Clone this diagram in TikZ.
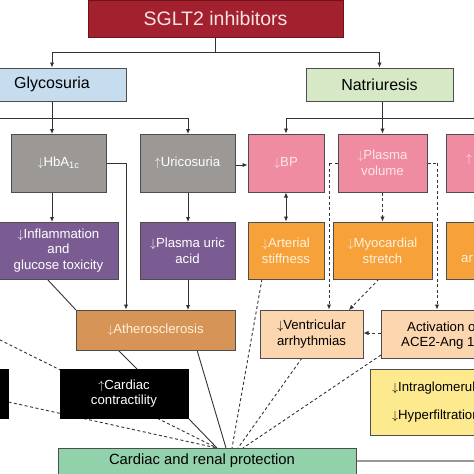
\documentclass[tikz,border=0pt]{standalone}
\usepackage{fontspec}
\setmainfont{Liberation Sans}
\usetikzlibrary{arrows.meta,backgrounds}
\newcommand{\arrdn}{\ensuremath{\downarrow}}
\newcommand{\arrup}{\ensuremath{\uparrow}}
\definecolor{sgltred}{HTML}{A3202E}
\definecolor{sgltborder}{HTML}{6E1119}
\definecolor{titletext}{HTML}{F7E3E3}
\definecolor{glycblue}{HTML}{C6DCEF}
\definecolor{natgreen}{HTML}{D6E8C5}
\definecolor{grayb}{HTML}{9C9895}
\definecolor{pinkb}{HTML}{F08CA1}
\definecolor{pinktext}{HTML}{FDE6EB}
\definecolor{purpleb}{HTML}{7B5C92}
\definecolor{orangeb}{HTML}{F6A13A}
\definecolor{orangetext}{HTML}{FFF1DF}
\definecolor{athb}{HTML}{D69456}
\definecolor{peachb}{HTML}{FCD6AE}
\definecolor{yellowb}{HTML}{FDE98E}
\definecolor{greenb}{HTML}{92D2AA}
\definecolor{lineg}{HTML}{333333}
\definecolor{bordc}{HTML}{4D4D4D}
\begin{document}
\begin{tikzpicture}[x=1pt,y=-1pt,
  box/.style={draw=bordc, line width=1pt, inner sep=2pt, align=center,
    font=\fontsize{13.2}{15.8}\selectfont},
  lvl/.style={box, font=\fontsize{16}{19}\selectfont},
  graybox/.style={box, fill=grayb, text=white},
  pinkbox/.style={box, fill=pinkb, text=pinktext},
  purplebox/.style={box, fill=purpleb, text=white},
  orangebox/.style={box, fill=orangeb, text=orangetext},
  peachbox/.style={box, fill=peachb, text=black},
  blackbox/.style={box, fill=black, draw=black, text=white},
  frag/.style={anchor=west, inner sep=0pt, font=\fontsize{13.2}{15.8}\selectfont},
  conn/.style={draw=lineg, line width=0.9pt},
  arr/.style={conn, -{Latex[length=5pt,width=4.5pt]}},
  darr/.style={conn, {Latex[length=5pt,width=4.5pt]}-{Latex[length=5pt,width=4.5pt]}},
  dsh/.style={conn, dash pattern=on 3pt off 2.5pt},
  darrow/.style={dsh, -{Latex[length=5pt,width=4.5pt]}}
]
\useasboundingbox (0,0) rectangle (474,474);

% top levels
\node[box, fill=sgltred, draw=sgltborder, text=titletext, minimum width=255pt, minimum height=37pt,
  font=\fontsize{19.5}{23}\selectfont] (sglt) at (215.5,19) {SGLT2 inhibitors};
\node[lvl, fill=glycblue, minimum width=148pt, minimum height=33pt] (glyc) at (52,84.5) {Glycosuria};
\node[lvl, fill=natgreen, minimum width=147pt, minimum height=33pt] (natr) at (379.5,84.5) {Natriuresis};

% row 2
\node[graybox, minimum width=95pt, minimum height=58pt] (hba) at (58.5,163) {\arrdn HbA\textsubscript{1c}};
\node[graybox, minimum width=95pt, minimum height=58pt] (uric) at (187.5,163) {\arrup Uricosuria};
\node[pinkbox, minimum width=76pt, minimum height=58pt] (bp) at (286,163) {\arrdn BP};
\node[pinkbox, minimum width=89pt, minimum height=58pt] (pv) at (382.5,163) {\arrdn Plasma\\volume};
\node[pinkbox, minimum width=94pt, minimum height=58pt] (pk3) at (493,163) {};
\node[frag, text=pinktext] (pk3t) at (466,159) {\arrup};

% row 3
\node[purplebox, minimum width=119pt, minimum height=57pt] (infl) at (58.5,250.5) {\arrdn Inflammation\\and\\glucose toxicity};
\node[purplebox, minimum width=95pt, minimum height=57pt] (pua) at (187.5,250.5) {\arrdn Plasma uric\\acid};
\node[orangebox, minimum width=76pt, minimum height=57pt] (art) at (286,250.5) {\arrdn Arterial\\stiffness};
\node[orangebox, minimum width=99pt, minimum height=57pt] (myo) at (382.5,250.5) {\arrdn Myocardial\\stretch};
\node[orangebox, minimum width=94pt, minimum height=57pt] (or3) at (493,250.5) {};
\node[frag, text=orangetext] (or3t) at (461,259) {ar};

% row 4
\node[box, fill=athb, text=orangetext, minimum width=159pt, minimum height=40pt] (ath) at (155.5,330) {\arrdn Atherosclerosis};
\node[peachbox, minimum width=103pt, minimum height=48pt] (va) at (311.5,334) {\arrdn Ventricular\\arrhythmias};
\node[peachbox, minimum width=139pt, minimum height=48pt] (act) at (450.5,334) {};
\node[frag] (actt1) at (407,327) {Activation of};
\node[frag] (actt2) at (401,343) {ACE2-Ang 1-7};

% row 5
\node[blackbox, minimum width=68pt, minimum height=49pt] (blk) at (-26,393.5) {};
\node[blackbox, minimum width=128pt, minimum height=49pt] (con) at (124,393.5) {\arrup Cardiac\\contractility};
\node[box, fill=yellowb, minimum width=150pt, minimum height=66pt] (yel) at (445,402) {};
\node[frag] (yelt1) at (392,388) {\arrdn Intraglomerular};
\node[frag] (yelt2) at (392,416) {\arrdn Hyperfiltration};

% bottom
\node[box, fill=greenb, minimum width=298pt, minimum height=28pt] (crp) at (207,462) {};
\node[inner sep=0pt, font=\fontsize{14.8}{17}\selectfont] (crpt) at (202,461) {Cardiac and renal protection};

\coordinate (r1) at (0,52);
\coordinate (r2) at (0,118);
\coordinate (hcorner) at (126,163);
\coordinate (pvl) at (329,163);
\coordinate (pvr) at (437,163);
\coordinate (offl) at (-20,330);
\coordinate (farr) at (480,118);
\coordinate (farr2) at (480,461);
\coordinate (cv1) at (217,448);
\coordinate (cv2) at (226,448);
\coordinate (cv3) at (232,448);
\coordinate (cv4) at (238,448);
\coordinate (cv5) at (243,448);

\begin{scope}[on background layer]
% SGLT2 split
\draw[conn] (sglt.south) -- (sglt.south |- r1);
\draw[conn] (52,52) -- (379.5,52);
\draw[arr] (52,52) -- (glyc.north);
\draw[arr] (natr.north |- r1) -- (natr.north);
% glycosuria split
\draw[conn] (glyc.south) -- (glyc.south |- r2);
\draw[conn] (-5,118) -- (188,118);
\draw[arr] (52,118) -- (52,134);
\draw[arr] (188,118) -- (188,134);
% natriuresis split
\draw[conn] (natr.south -| pv.north) -- (pv.north |- r2);
\draw[conn] (bp.north |- r2) -- (farr);
\draw[arr] (bp.north |- r2) -- (bp.north);
\draw[arr] (pv.north |- r2) -- (pv.north);
% row 2 -> row 3
\draw[arr] (52,192) -- (52,222);
\draw[arr] (188,192) -- (188,222);
\draw[conn] (hba.east |- hcorner) -- (hcorner);
\draw[arr] (hcorner) -- (hcorner |- ath.north);
\draw[arr] (uric.east |- 0,165) -- (bp.west |- 0,165);
\draw[darr] (bp.south) -- (art.north);
\draw[darrow] (pv.south) -- (myo.north);
\draw[dsh] (pv.west) -- (pvl);
\draw[darrow] (pvl) -- (pvl |- va.north);
\draw[dsh] (pv.east) -- (pvr);
\draw[darrow] (pvr) -- (pvr |- act.north);
% row 3 -> row 4
\draw[arr] (188,279) -- (188,310);
\draw[conn] (47,279) -- (76,310);
\draw[darrow] (379,279) -- (349,310);
\draw[darrow] (act.west |- 0,333) -- (va.east |- 0,333);
% row 4 -> row 5 and protection
\draw[conn] (118,350) -- (137,369);
\draw[conn] (197,350) -- (cv2);
\draw[conn] (188,418) -- (cv1);
\draw[dsh] (offl) -- (cv1);
\draw[dsh] (blk.east |- 0,402) -- (cv1);
\draw[dsh] (262,279) -- (cv3);
\draw[dsh] (302,358) -- (cv4);
\draw[dsh] (381,355) -- (cv5);
\draw[draw=gray!80, line width=1.4pt] (crp.east |- 0,461) -- (farr2);
\end{scope}
\end{tikzpicture}
\end{document}
